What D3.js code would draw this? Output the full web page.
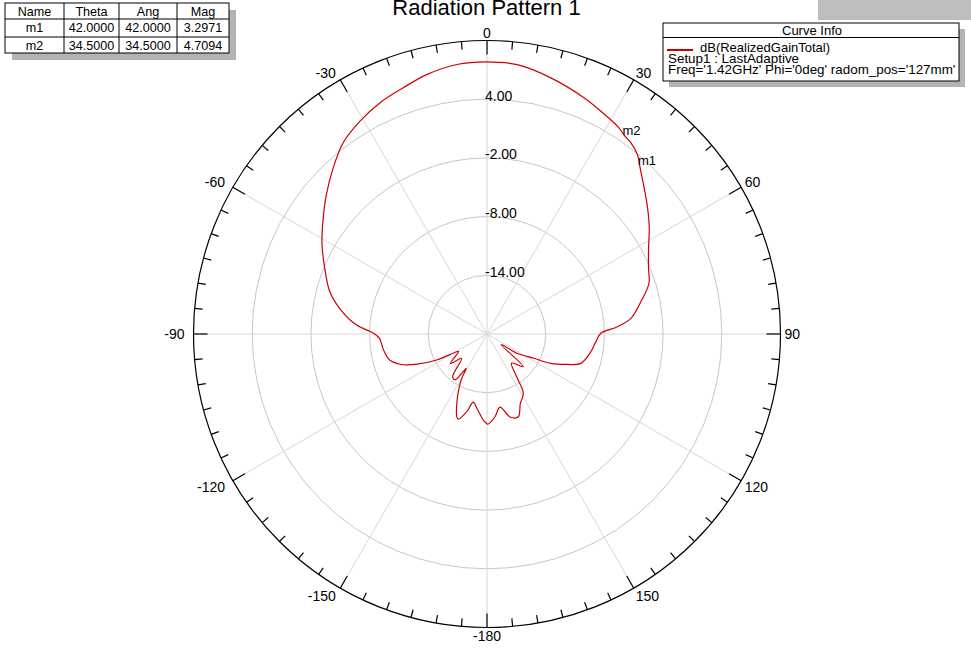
<!DOCTYPE html>
<html>
<head>
<meta charset="utf-8">
<script src="https://cdn.jsdelivr.net/npm/d3@7"></script>
<style>
  html, body { margin: 0; padding: 0; background: #ffffff; }
  svg { display: block; }
  text { font-family: "Liberation Sans", Arial, sans-serif; fill: #000; }
</style>
</head>
<body>
<svg id="chart" width="971" height="652"></svg>
<script>
// ---------------- data ----------------
const chartTitle = "Radiation Pattern 1";
const thetaDeg = [-180, -177.5, -172.5, -168.6, -165.4, -161.3, -159.9, -156.4, -152.3, -150.0, -148.8, -145.2, -141.2, -133.8, -128.9, -121.7, -120.3, -117.3, -113.3, -109.2, -105.0, -98.8, -92.3, -89.6, -86.0, -80.1, -74.9, -67.9, -61.6, -55.6, -49.1, -42.8, -37.0, -30.9, -24.9, -18.8, -13.1, -6.4, 0, 6.4, 14.0, 22.4, 27.1, 32.2, 34.5, 37.0, 40.0, 42.0, 43.4, 47.1, 51.9, 56.9, 62.0, 67.8, 72.6, 78.1, 83.8, 86.8, 89.6, 94.0, 99.7, 107.4, 110.7, 114.7, 117.3, 122.5, 126.9, 132.0, 139.9, 145.2, 148.5, 154.5, 159.3, 164.5, 169.9, 174.5, 179.2, 180];
const gainDb = [-10.8, -11.2, -12.3, -12.9, -11.8, -10.8, -11.0, -12.3, -13.9, -15.0, -15.9, -14.3, -14.4, -16.4, -15.2, -16.6, -16.4, -14.2, -12.2, -10.6, -9.7, -9.3, -9.0, -8.4, -6.6, -4.7, -3.35, -2.1, -0.83, 0.33, 1.73, 3.14, 4.45, 5.33, 6.04, 6.58, 7.22, 7.72, 7.82, 7.7, 6.98, 6.1, 5.57, 5.07, 4.7094, 4.45, 3.93, 3.2971, 2.88, 1.93, 0.86, -0.2, -1.3, -2.17, -2.65, -3.92, -5.2, -6.64, -8.36, -8.84, -9.23, -9.95, -11.2, -12.8, -14.6, -16.3, -18.2, -15.0, -16.1, -14.7, -12.9, -12.1, -10.95, -11.2, -12.4, -11.5, -10.8, -10.8];

const radialDomain = [-20, 10];
const ringValues = [-14, -8, -2, 4];
const ringLabels = ["-14.00", "-8.00", "-2.00", "4.00"];
const angleTickValues = [0, 30, 60, 90, 120, 150, -180, -150, -120, -90, -60, -30];
const angleTickLabels = ["0", "30", "60", "90", "120", "150", "-180", "-150", "-120", "-90", "-60", "-30"];

const markerNames = ["m1", "m2"];
const markerTheta = [42.0, 34.5];
const markerMag = [3.2971, 4.7094];
const tableHeader = ["Name", "Theta", "Ang", "Mag"];

const legendSeries = "dB(RealizedGainTotal)";
const legendLines = ["Setup1 : LastAdaptive", "Freq='1.42GHz' Phi='0deg' radom_pos='127mm'"];

// ---------------- layout ----------------
const svg = d3.select("#chart");
const cx = 487, cy = 334, R = 293.5;
const rScale = d3.scaleLinear().domain(radialDomain).range([0, R]);
const aScale = d3.scaleLinear().domain([-180, 180]).range([-Math.PI, Math.PI]);
const px = (t, rad) => cx + rad * Math.sin(aScale(t));
const py = (t, rad) => cy - rad * Math.cos(aScale(t));

// title
svg.append("text").attr("x", 486.5).attr("y", 15).attr("text-anchor", "middle")
  .style("font-size", "22px").text(chartTitle);

// top-right grey box
svg.append("rect").attr("x", 818).attr("y", 0).attr("width", 153).attr("height", 20).attr("fill", "#bdbdbd");

const g = svg.append("g");

// rings
g.selectAll("circle.ring").data(ringValues).join("circle")
  .attr("cx", cx).attr("cy", cy).attr("r", d => rScale(d))
  .attr("fill", "none").attr("stroke", "#c6c6c6").attr("stroke-width", 1);

// spokes
const spokeAngles = d3.range(-180, 180, 30);
g.selectAll("line.spoke").data(spokeAngles).join("line")
  .attr("x1", cx).attr("y1", cy)
  .attr("x2", d => px(d, R)).attr("y2", d => py(d, R))
  .attr("stroke", "#d6d6d6").attr("stroke-width", 1);

// outer circle
g.append("circle").attr("cx", cx).attr("cy", cy).attr("r", R)
  .attr("fill", "none").attr("stroke", "#000").attr("stroke-width", 1.2);

// ticks
const tickAngles = d3.range(-180, 180, 5);
g.selectAll("line.tick").data(tickAngles).join("line")
  .attr("x1", d => px(d, R)).attr("y1", d => py(d, R))
  .attr("x2", d => px(d, R - (d % 30 === 0 ? 14 : 8)))
  .attr("y2", d => py(d, R - (d % 30 === 0 ? 14 : 8)))
  .attr("stroke", "#000").attr("stroke-width", 1.2);

// angle labels
angleTickValues.forEach((t, i) => {
  const s = Math.sin(aScale(t)), c = Math.cos(aScale(t));
  const x = px(t, R + 4) + (s < -0.01 ? -5 * Math.abs(s) : 0);
  const y = py(t, R + 4);
  const anchor = s > 0.01 ? "start" : (s < -0.01 ? "end" : "middle");
  const baseline = c > 0.01 ? "auto" : (c < -0.01 ? "hanging" : "central");
  g.append("text").attr("x", x).attr("y", y + (baseline === "auto" ? 1.5 : (baseline === "hanging" ? -1 : 0)))
    .attr("text-anchor", anchor).attr("dominant-baseline", baseline)
    .style("font-size", "14px").text(angleTickLabels[i]);
});

// ring labels
ringValues.forEach((v, i) => {
  g.append("text").attr("x", cx - 2).attr("y", cy - rScale(v) - 3.5)
    .attr("dominant-baseline", "central").style("font-size", "14px").text(ringLabels[i]);
});

// curve
const pts = thetaDeg.map((t, i) => ({ t: t, v: gainDb[i] }));
const line = d3.lineRadial()
  .angle(d => aScale(d.t))
  .radius(d => rScale(d.v))
  .curve(d3.curveCatmullRom.alpha(0.5));
g.append("path").attr("transform", `translate(${cx},${cy})`)
  .attr("d", line(pts)).attr("fill", "none").attr("stroke", "#cc0000").attr("stroke-width", 1.2);

// markers
markerNames.forEach((m, i) => {
  const rr = rScale(markerMag[i]);
  g.append("text").attr("x", px(markerTheta[i], rr) - 1.5).attr("y", py(markerTheta[i], rr) + 0.5)
    .style("font-size", "13px").text(m);
});

// marker table
const tx = 5, ty = 3, colX = [5, 64, 119, 177, 229], rowY = [3, 19, 37, 53];
svg.append("rect").attr("x", tx + 7).attr("y", ty + 7).attr("width", 224).attr("height", 50).attr("fill", "#b3b3b3");
svg.append("rect").attr("x", tx).attr("y", ty).attr("width", 224).attr("height", 50)
  .attr("fill", "#fff").attr("stroke", "#000").attr("stroke-width", 1);
colX.slice(1, 4).forEach(x => svg.append("line").attr("x1", x).attr("x2", x).attr("y1", rowY[0]).attr("y2", rowY[3]).attr("stroke", "#000"));
rowY.slice(1, 3).forEach(y => svg.append("line").attr("x1", colX[0]).attr("x2", colX[4]).attr("y1", y).attr("y2", y).attr("stroke", "#000"));
const rows = [tableHeader].concat(markerNames.map((m, i) => [m, markerTheta[i].toFixed(4), markerTheta[i].toFixed(4), markerMag[i].toFixed(4)]));
rows.forEach((row, ri) => {
  row.forEach((cell, ci) => {
    svg.append("text").attr("x", (colX[ci] + colX[ci + 1]) / 2).attr("y", rowY[ri] + 12.5)
      .attr("text-anchor", "middle").style("font-size", "12.6px").text(cell);
  });
});

// curve info legend
const lx = 663, ly = 23, lw = 296, lh = 58;
svg.append("rect").attr("x", lx + 6).attr("y", ly + 6).attr("width", lw).attr("height", lh).attr("fill", "#b3b3b3");
svg.append("rect").attr("x", lx).attr("y", ly).attr("width", lw).attr("height", lh)
  .attr("fill", "#fff").attr("stroke", "#000").attr("stroke-width", 1);
svg.append("line").attr("x1", lx).attr("x2", lx + lw).attr("y1", 37.5).attr("y2", 37.5).attr("stroke", "#000");
svg.append("text").attr("x", 812).attr("y", 35).attr("text-anchor", "middle").style("font-size", "13px").text("Curve Info");
svg.append("line").attr("x1", 667).attr("x2", 693).attr("y1", 50).attr("y2", 50).attr("stroke", "#cc0000").attr("stroke-width", 2);
svg.append("text").attr("x", 700).attr("y", 52).style("font-size", "13px").text(legendSeries);
legendLines.forEach((t, i) => {
  svg.append("text").attr("x", 668).attr("y", 63 + i * 11).style("font-size", "13.4px").text(t);
});
</script>
</body>
</html>
